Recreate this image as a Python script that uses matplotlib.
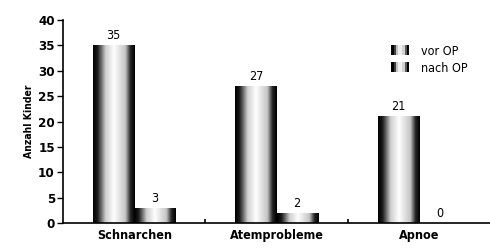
import numpy as np
import matplotlib.pyplot as plt
from matplotlib.colors import LinearSegmentedColormap
from matplotlib.patches import Rectangle
from matplotlib.legend_handler import HandlerBase

categories = ["Schnarchen", "Atemprobleme", "Apnoe"]
vor_op = [35, 27, 21]
nach_op = [3, 2, 0]
series_names = ["vor OP", "nach OP"]

plt.rcParams['font.family'] = ['DejaVu Sans']
plt.rcParams['font.stretch'] = 'condensed'

fig = plt.figure(figsize=(4.9, 2.49), dpi=100)
ax = fig.add_axes([0.129, 0.104, 0.871, 0.816])

x = np.arange(len(categories))
w = 0.29

# cylinder-like shading: dark edges, light centre
cyl = LinearSegmentedColormap.from_list(
    "cyl", [(0, "#000000"), (0.1, "#1a1a1a"), (0.3, "#cfcfcf"),
            (0.5, "#ffffff"), (0.78, "#c4c4c4"), (0.9, "#262626"), (1, "#000000")])
prof = np.linspace(0, 1, 64).reshape(1, -1)

def shade(bars):
    for b in bars:
        if b.get_height() <= 0:
            continue
        x0, y0 = b.get_x(), b.get_y()
        im = ax.imshow(prof, cmap=cyl, aspect='auto', interpolation='bilinear',
                       extent=[x0, x0 + b.get_width(), y0, y0 + b.get_height()],
                       zorder=2)
        im.set_clip_path(b)

b1 = ax.bar(x - w / 2, vor_op, w, color="#bbbbbb", edgecolor="none", zorder=1,
            label=series_names[0])
b2 = ax.bar(x + w / 2, nach_op, w, color="#888888", edgecolor="none", zorder=1,
            label=series_names[1])
shade(b1)
shade(b2)

for bars, vals in [(b1, vor_op), (b2, nach_op)]:
    for b, v in zip(bars, vals):
        ax.text(b.get_x() + b.get_width() / 2, v + 0.6, str(v), ha='center',
                va='bottom', fontsize=9)

ax.set_xlim(-0.5, 2.5)
ax.set_ylim(0, 40)
ax.set_yticks(range(0, 41, 5))
ax.set_xticks(x)
ax.set_xticklabels(categories, fontsize=9, fontweight='bold')
ax.set_xticks([0.5, 1.5], minor=True)
ax.tick_params(axis='x', which='major', length=0, pad=4)
ax.tick_params(axis='x', which='minor', length=3, direction='in', width=1.2)
ax.tick_params(axis='y', length=4, width=1, labelsize=9.5, pad=2)
for t in ax.get_yticklabels():
    t.set_fontweight('bold')
ax.set_ylabel("Anzahl Kinder", fontsize=7.5, fontweight='bold', labelpad=3)

for s in ["top", "right"]:
    ax.spines[s].set_visible(False)
ax.spines["left"].set_linewidth(1.2)
ax.spines["bottom"].set_linewidth(1.2)


class CylHandler(HandlerBase):
    def create_artists(self, legend, orig, xd, yd, width, height, fontsize, trans):
        arts = []
        n = 8
        cols = cyl(np.linspace(0, 1, n))
        for i in range(n):
            r = Rectangle((xd + i * width / n, yd), width / n + 0.3, height,
                          facecolor=cols[i], edgecolor='none', transform=trans)
            arts.append(r)
        return arts

ax.legend([b1, b2], series_names, handler_map={b1: CylHandler(), b2: CylHandler()},
          loc='upper right', bbox_to_anchor=(0.975, 0.93), frameon=False,
          fontsize=9, handlelength=1.4, handleheight=0.8, handletextpad=1.0,
          labelspacing=0.3)

fig.savefig("out.png", dpi=100)
